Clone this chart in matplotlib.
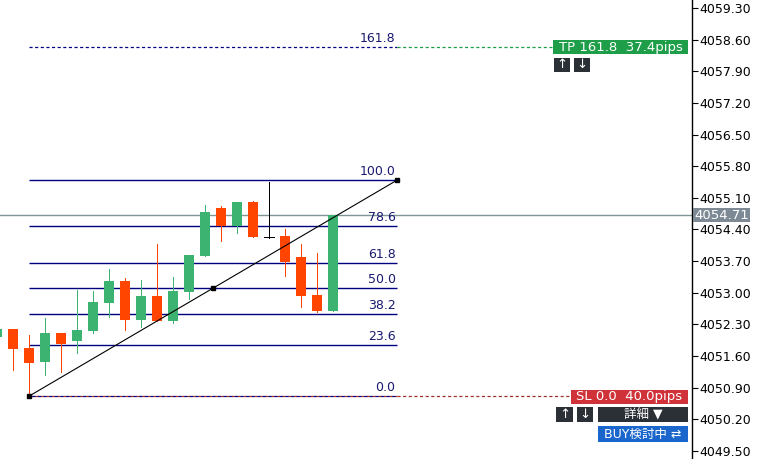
import matplotlib
matplotlib.use('Agg')
import matplotlib.pyplot as plt
import numpy as np
from matplotlib.patches import Rectangle
from matplotlib.lines import Line2D
from matplotlib.transforms import IdentityTransform

W, H = 761, 459

# OHLC (index -1 is the partly hidden candle at the left edge)
idx = list(range(-1, 21))
opens = [4052.03, 4052.19, 4051.78, 4051.47, 4052.11, 4051.94, 4052.16, 4052.78, 4053.26, 4052.40,
         4052.93, 4052.38, 4053.02, 4053.82, 4054.88, 4054.48, 4055.01, 4054.24, 4054.26, 4053.78,
         4052.95, 4052.60]
highs = [4052.19, 4052.19, 4052.07, 4052.44, 4052.11, 4053.06, 4053.04, 4053.53, 4053.32, 4053.28,
         4054.08, 4053.35, 4053.84, 4054.93, 4054.92, 4055.01, 4055.03, 4055.45, 4054.41, 4054.08,
         4053.88, 4054.71]
lows = [4052.03, 4051.28, 4050.71, 4051.17, 4051.25, 4051.67, 4052.11, 4052.47, 4052.18, 4052.23,
        4052.38, 4052.32, 4052.87, 4053.82, 4054.15, 4054.31, 4054.24, 4054.21, 4053.36, 4052.69,
        4052.58, 4052.60]
closes = [4052.19, 4051.76, 4051.45, 4052.11, 4051.87, 4052.18, 4052.80, 4053.26, 4052.40, 4052.93,
          4052.38, 4053.04, 4053.84, 4054.79, 4054.48, 4055.01, 4054.24, 4054.24, 4053.68, 4052.93,
          4052.60, 4054.71]

# fibonacci retracement
fib_low, fib_high = 4050.71, 4055.49
fib_start, fib_end = 1, 24
fib_levels = [0.0, 23.6, 38.2, 50.0, 61.8, 78.6, 100.0, 161.8]
current_price = 4054.71
tp_text = 'TP 161.8  37.4pips'
sl_text = 'SL 0.0  40.0pips'

yticks = [4049.50 + 0.70 * k for k in range(15)]

GREEN = '#3cb371'
RED = '#ff4500'
NAVY = '#000080'
PX = 0.72  # one pixel in points

plt.rcParams['font.family'] = ['DejaVu Sans', 'Noto Sans CJK JP']

fig = plt.figure(figsize=(W / 100, H / 100), dpi=100)
ax = fig.add_axes([0, 0, 692 / W, 1])
ax.set_xlim(-0.8125, 42.4375)
ax.set_ylim(4049.32, 4059.477)

for i, o, h, l, c in zip(idx, opens, highs, lows, closes):
    if abs(c - o) < 0.005:
        ax.vlines(i, l, h, color='black', lw=PX, zorder=3, antialiased=False)
        ax.hlines(o, i - 0.34, i + 0.34, color='black', lw=PX, zorder=3, antialiased=False)
        continue
    col = GREEN if c > o else RED
    ax.vlines(i, l, h, color=col, lw=PX, zorder=3, antialiased=False)
    ax.bar(i, abs(c - o), bottom=min(o, c), width=0.68, color=col, zorder=4)

# fib lines
rng = fib_high - fib_low
for lv in fib_levels:
    y = fib_low + rng * lv / 100
    if lv == 161.8:
        ax.hlines(y, fib_start, fib_end, color=NAVY, lw=0.9, linestyles=(0, (2.5, 2)), zorder=2)
    elif lv == 0.0:
        ax.hlines(y, fib_start, fib_end, color='#a0302a', lw=0.9, linestyles=(0, (2.5, 2)), zorder=2)
        ax.hlines(y, fib_start, fib_end, color=NAVY, lw=0.9, linestyles=(2.25, (2.5, 2)), zorder=2)
    else:
        ax.hlines(y, fib_start, fib_end, color=NAVY, lw=1.0, zorder=2)
    ax.annotate(f'{lv:.1f}', (fib_end, y), xytext=(-1, 1.5), textcoords='offset points',
                ha='right', va='bottom', color='#191970', fontsize=9)

# diagonal with handles
ax.plot([fib_start, fib_end], [fib_low, fib_high], color='black', lw=0.8, zorder=5)
mid = ((fib_start + fib_end) / 2, (fib_low + fib_high) / 2)
ax.plot([fib_start, mid[0], fib_end], [fib_low, mid[1], fib_high], 's', color='black', ms=3.5, zorder=6)

# current price
ax.axhline(current_price, color='#7f9494', lw=1.0, zorder=1)

ax.yaxis.tick_right()
ax.set_yticks(yticks)
ax.set_yticklabels([f'{t:.2f}' for t in yticks])
ax.tick_params(axis='y', length=4, width=0.8, pad=1, labelsize=9, colors='black')
ax.set_xticks([])
for s in ['left', 'top', 'bottom']:
    ax.spines[s].set_visible(False)
ax.spines['right'].set_color('black')
ax.spines['right'].set_linewidth(1.0)

fig.canvas.draw()


def ypix(v):
    return H - ax.transData.transform((0, v))[1]


def xpix(v):
    return ax.transData.transform((v, 0))[0]


def box(x0, x1, y0, y1, fc, text='', size=9, tc='white'):
    r = Rectangle((x0, H - y1), x1 - x0, y1 - y0, facecolor=fc, edgecolor='none',
                  transform=IdentityTransform(), zorder=10)
    fig.add_artist(r)
    if text:
        fig.text((x0 + x1) / 2 / W, 1 - (y0 + y1) / 2 / H, text, color=tc, fontsize=size,
                 ha='center', va='center', zorder=11)


def hline_pix(x0, x1, y, color):
    ln = Line2D([x0, x1], [H - y, H - y], color=color, lw=0.9, linestyle=(0, (2.5, 2)),
                transform=IdentityTransform())
    fig.add_artist(ln)


y_tp = ypix(fib_low + rng * 1.618)
y_sl = ypix(fib_low)
x_end = xpix(fib_end)

hline_pix(x_end, 553, y_tp, '#1e9e48')
hline_pix(x_end, 571, y_sl, '#a0302a')

box(553, 688, y_tp - 6.5, y_tp + 7.5, '#1e9e48', tp_text, 9.5)
box(554, 570, y_tp + 11, y_tp + 25, '#2b2f36', '↑', 9.5)
box(574, 590, y_tp + 11, y_tp + 25, '#2b2f36', '↓', 9.5)

box(571, 688, y_sl - 6.5, y_sl + 7.5, '#d0323a', sl_text, 9.5)
box(556, 573, y_sl + 11, y_sl + 26, '#2b2f36', '↑', 9.5)
box(577, 593, y_sl + 11, y_sl + 26, '#2b2f36', '↓', 9.5)
box(598, 688, y_sl + 11, y_sl + 26, '#2b2f36', '詳細 ▼', 9)
box(598, 688, y_sl + 30, y_sl + 46, '#1a66cc', 'BUY検討中 ⇄', 9)

y_cp = ypix(current_price)
box(693, 750, y_cp - 7, y_cp + 7, '#7d8a96', f'{current_price:.2f}', 9.5)

fig.savefig('out.png', dpi=100, facecolor='white')
